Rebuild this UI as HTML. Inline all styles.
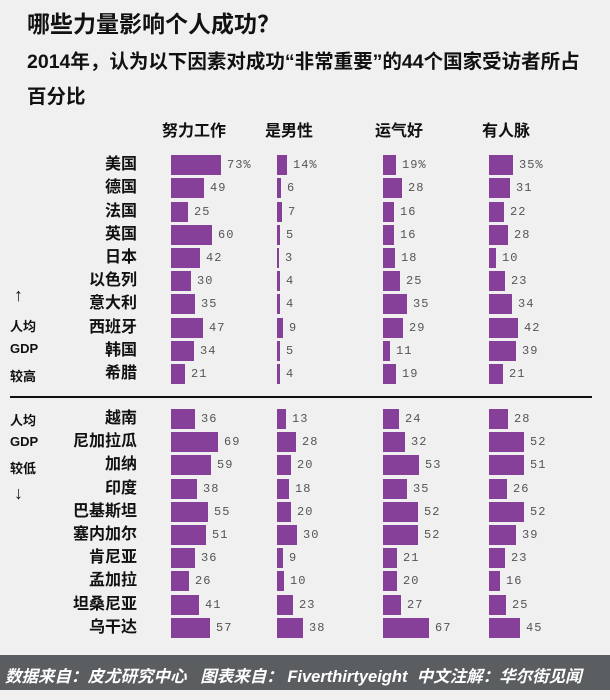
<!DOCTYPE html>
<html><head><meta charset="utf-8"><style>
body{margin:0;width:610px;height:690px;background:#f0f0f0;position:relative;overflow:hidden;font-family:"Liberation Sans","Noto Sans CJK SC",sans-serif}
.a{position:absolute;white-space:nowrap}
.t{left:27px;top:5px;font-size:23px;font-weight:bold;color:#111}
.s{left:27px;font-size:19.5px;font-weight:bold;color:#111}
.h{top:117px;font-size:16px;font-weight:bold;color:#111}
.r{position:absolute;left:0;width:610px;height:20px}
.n{position:absolute;right:473px;top:0;line-height:20px;font-size:16px;font-weight:bold;color:#111}
.c{position:absolute;top:0;height:20px;display:flex;align-items:center}
.b{height:20px;background:#87409a;display:inline-block}
.v{margin-left:6px;font-family:"Liberation Mono","DejaVu Sans Mono",monospace;font-size:12px;color:#555;letter-spacing:1px}
.c1{left:171px}.c2{left:277px}.c3{left:383px}.c4{left:489px}
.l{left:10px;font-size:13px;font-weight:bold;color:#111}
.f{position:absolute;left:0;top:655px;width:610px;height:35px;background:#5a5e60;color:#fff;font-style:italic;font-weight:bold;font-size:16.5px;line-height:45px;padding-left:5px;box-sizing:border-box}
</style></head><body>
<div class="a t">哪些力量影响个人成功？</div>
<div class="a s" style="top:45px">2014年，认为以下因素对成功“非常重要”的44个国家受访者所占</div>
<div class="a s" style="top:80px">百分比</div>
<div class="a h" style="left:162px">努力工作</div>
<div class="a h" style="left:265px">是男性</div>
<div class="a h" style="left:375px">运气好</div>
<div class="a h" style="left:482px">有人脉</div>

<div class="r" style="top:155px"><div class="n">美国</div><div class="c c1"><span class="b" style="width:50px"></span><span class="v">73%</span></div><div class="c c2"><span class="b" style="width:10px"></span><span class="v">14%</span></div><div class="c c3"><span class="b" style="width:13px"></span><span class="v">19%</span></div><div class="c c4"><span class="b" style="width:24px"></span><span class="v">35%</span></div></div>
<div class="r" style="top:178px"><div class="n">德国</div><div class="c c1"><span class="b" style="width:33px"></span><span class="v">49</span></div><div class="c c2"><span class="b" style="width:4px"></span><span class="v">6</span></div><div class="c c3"><span class="b" style="width:19px"></span><span class="v">28</span></div><div class="c c4"><span class="b" style="width:21px"></span><span class="v">31</span></div></div>
<div class="r" style="top:202px"><div class="n">法国</div><div class="c c1"><span class="b" style="width:17px"></span><span class="v">25</span></div><div class="c c2"><span class="b" style="width:5px"></span><span class="v">7</span></div><div class="c c3"><span class="b" style="width:11px"></span><span class="v">16</span></div><div class="c c4"><span class="b" style="width:15px"></span><span class="v">22</span></div></div>
<div class="r" style="top:225px"><div class="n">英国</div><div class="c c1"><span class="b" style="width:41px"></span><span class="v">60</span></div><div class="c c2"><span class="b" style="width:3px"></span><span class="v">5</span></div><div class="c c3"><span class="b" style="width:11px"></span><span class="v">16</span></div><div class="c c4"><span class="b" style="width:19px"></span><span class="v">28</span></div></div>
<div class="r" style="top:248px"><div class="n">日本</div><div class="c c1"><span class="b" style="width:29px"></span><span class="v">42</span></div><div class="c c2"><span class="b" style="width:2px"></span><span class="v">3</span></div><div class="c c3"><span class="b" style="width:12px"></span><span class="v">18</span></div><div class="c c4"><span class="b" style="width:7px"></span><span class="v">10</span></div></div>
<div class="r" style="top:271px"><div class="n">以色列</div><div class="c c1"><span class="b" style="width:20px"></span><span class="v">30</span></div><div class="c c2"><span class="b" style="width:3px"></span><span class="v">4</span></div><div class="c c3"><span class="b" style="width:17px"></span><span class="v">25</span></div><div class="c c4"><span class="b" style="width:16px"></span><span class="v">23</span></div></div>
<div class="r" style="top:294px"><div class="n">意大利</div><div class="c c1"><span class="b" style="width:24px"></span><span class="v">35</span></div><div class="c c2"><span class="b" style="width:3px"></span><span class="v">4</span></div><div class="c c3"><span class="b" style="width:24px"></span><span class="v">35</span></div><div class="c c4"><span class="b" style="width:23px"></span><span class="v">34</span></div></div>
<div class="r" style="top:318px"><div class="n">西班牙</div><div class="c c1"><span class="b" style="width:32px"></span><span class="v">47</span></div><div class="c c2"><span class="b" style="width:6px"></span><span class="v">9</span></div><div class="c c3"><span class="b" style="width:20px"></span><span class="v">29</span></div><div class="c c4"><span class="b" style="width:29px"></span><span class="v">42</span></div></div>
<div class="r" style="top:341px"><div class="n">韩国</div><div class="c c1"><span class="b" style="width:23px"></span><span class="v">34</span></div><div class="c c2"><span class="b" style="width:3px"></span><span class="v">5</span></div><div class="c c3"><span class="b" style="width:7px"></span><span class="v">11</span></div><div class="c c4"><span class="b" style="width:27px"></span><span class="v">39</span></div></div>
<div class="r" style="top:364px"><div class="n">希腊</div><div class="c c1"><span class="b" style="width:14px"></span><span class="v">21</span></div><div class="c c2"><span class="b" style="width:3px"></span><span class="v">4</span></div><div class="c c3"><span class="b" style="width:13px"></span><span class="v">19</span></div><div class="c c4"><span class="b" style="width:14px"></span><span class="v">21</span></div></div>

<div class="a" style="left:10px;top:396px;width:582px;height:2px;background:#111"></div>

<div class="r" style="top:409px"><div class="n">越南</div><div class="c c1"><span class="b" style="width:24px"></span><span class="v">36</span></div><div class="c c2"><span class="b" style="width:9px"></span><span class="v">13</span></div><div class="c c3"><span class="b" style="width:16px"></span><span class="v">24</span></div><div class="c c4"><span class="b" style="width:19px"></span><span class="v">28</span></div></div>
<div class="r" style="top:432px"><div class="n">尼加拉瓜</div><div class="c c1"><span class="b" style="width:47px"></span><span class="v">69</span></div><div class="c c2"><span class="b" style="width:19px"></span><span class="v">28</span></div><div class="c c3"><span class="b" style="width:22px"></span><span class="v">32</span></div><div class="c c4"><span class="b" style="width:35px"></span><span class="v">52</span></div></div>
<div class="r" style="top:455px"><div class="n">加纳</div><div class="c c1"><span class="b" style="width:40px"></span><span class="v">59</span></div><div class="c c2"><span class="b" style="width:14px"></span><span class="v">20</span></div><div class="c c3"><span class="b" style="width:36px"></span><span class="v">53</span></div><div class="c c4"><span class="b" style="width:35px"></span><span class="v">51</span></div></div>
<div class="r" style="top:479px"><div class="n">印度</div><div class="c c1"><span class="b" style="width:26px"></span><span class="v">38</span></div><div class="c c2"><span class="b" style="width:12px"></span><span class="v">18</span></div><div class="c c3"><span class="b" style="width:24px"></span><span class="v">35</span></div><div class="c c4"><span class="b" style="width:18px"></span><span class="v">26</span></div></div>
<div class="r" style="top:502px"><div class="n">巴基斯坦</div><div class="c c1"><span class="b" style="width:37px"></span><span class="v">55</span></div><div class="c c2"><span class="b" style="width:14px"></span><span class="v">20</span></div><div class="c c3"><span class="b" style="width:35px"></span><span class="v">52</span></div><div class="c c4"><span class="b" style="width:35px"></span><span class="v">52</span></div></div>
<div class="r" style="top:525px"><div class="n">塞内加尔</div><div class="c c1"><span class="b" style="width:35px"></span><span class="v">51</span></div><div class="c c2"><span class="b" style="width:20px"></span><span class="v">30</span></div><div class="c c3"><span class="b" style="width:35px"></span><span class="v">52</span></div><div class="c c4"><span class="b" style="width:27px"></span><span class="v">39</span></div></div>
<div class="r" style="top:548px"><div class="n">肯尼亚</div><div class="c c1"><span class="b" style="width:24px"></span><span class="v">36</span></div><div class="c c2"><span class="b" style="width:6px"></span><span class="v">9</span></div><div class="c c3"><span class="b" style="width:14px"></span><span class="v">21</span></div><div class="c c4"><span class="b" style="width:16px"></span><span class="v">23</span></div></div>
<div class="r" style="top:571px"><div class="n">孟加拉</div><div class="c c1"><span class="b" style="width:18px"></span><span class="v">26</span></div><div class="c c2"><span class="b" style="width:7px"></span><span class="v">10</span></div><div class="c c3"><span class="b" style="width:14px"></span><span class="v">20</span></div><div class="c c4"><span class="b" style="width:11px"></span><span class="v">16</span></div></div>
<div class="r" style="top:595px"><div class="n">坦桑尼亚</div><div class="c c1"><span class="b" style="width:28px"></span><span class="v">41</span></div><div class="c c2"><span class="b" style="width:16px"></span><span class="v">23</span></div><div class="c c3"><span class="b" style="width:18px"></span><span class="v">27</span></div><div class="c c4"><span class="b" style="width:17px"></span><span class="v">25</span></div></div>
<div class="r" style="top:618px"><div class="n">乌干达</div><div class="c c1"><span class="b" style="width:39px"></span><span class="v">57</span></div><div class="c c2"><span class="b" style="width:26px"></span><span class="v">38</span></div><div class="c c3"><span class="b" style="width:46px"></span><span class="v">67</span></div><div class="c c4"><span class="b" style="width:31px"></span><span class="v">45</span></div></div>

<div class="a l" style="top:285px;left:14px;font-size:18px;font-weight:normal">↑</div>
<div class="a l" style="top:316px">人均</div>
<div class="a l" style="top:341px">GDP</div>
<div class="a l" style="top:366px">较高</div>
<div class="a l" style="top:410px">人均</div>
<div class="a l" style="top:434px">GDP</div>
<div class="a l" style="top:458px">较低</div>
<div class="a l" style="top:483px;left:14px;font-size:18px;font-weight:normal">↓</div>

<div class="f">数据来自：皮尤研究中心&nbsp;&nbsp; 图表来自： Fiverthirtyeight&nbsp; 中文注解：华尔街见闻</div>
</body></html>
